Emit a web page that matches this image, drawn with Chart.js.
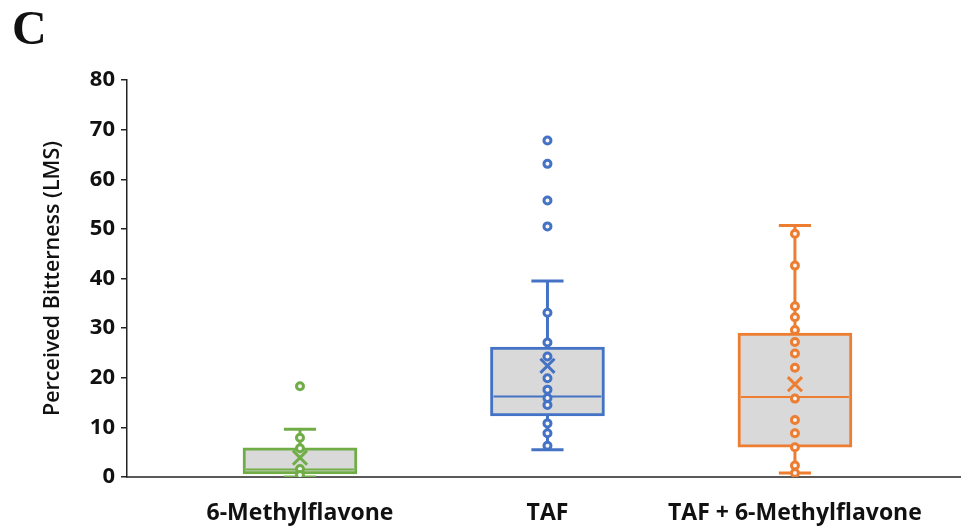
<!DOCTYPE html>
<html>
<head>
<meta charset="utf-8">
<script src="https://cdn.jsdelivr.net/npm/chart.js@4/dist/chart.umd.min.js"></script>
<style>
  body { margin: 0; background: #fff; }
  #wrap { width: 961px; height: 529px; }
</style>
</head>
<body>
<div id="wrap"><canvas id="grafica" width="961" height="529"></canvas></div>
<script>
// categorias y colores
var grupos = ["6-Methylflavone", "TAF", "TAF + 6-Methylflavone"];
var colores = ["#70ad47", "#4472c4", "#ed7d31"];

// resumen de cada caja: minimo, Q1, mediana, Q3, maximo (bigotes) y media
var minimos = [0, 5.5, 0.8];
var cuartil1 = [0.6, 12.3, 6.0];
var medianas = [1.5, 16.2, 16.1];
var cuartil3 = [5.9, 26.2, 29.0];
var maximos = [9.6, 39.5, 50.7];
var medias = [3.9, 22.4, 18.7];

// puntos individuales
var puntosMetil = [18.3, 7.9, 5.8, 1.6, 0.4];
var puntosTAF = [67.8, 63.1, 55.7, 50.5, 33.1, 27.1, 24.3, 19.9, 17.6, 15.9, 14.5, 10.8, 8.8, 6.3];
var puntosMezcla = [49.0, 42.6, 34.4, 32.2, 29.6, 27.2, 24.9, 22.0, 15.8, 11.5, 8.8, 6.0, 2.3, 0.8];
var puntos = [puntosMetil, puntosTAF, puntosMezcla];

var yTicks = [0, 10, 20, 30, 40, 50, 60, 70, 80];

var ANCHO_MEDIANA = 0.218;
var ANCHO_TAPA = 0.065;

function creaDatasets()
{
	var ds = [];

	// las tres cajas en un solo dataset de barras flotantes
	ds.push({
		type: "bar",
		data: grupos.map(function (g, i) { return { x: i + 1, y: [cuartil1[i], cuartil3[i]] }; }),
		backgroundColor: "#d9d9d9",
		borderColor: colores,
		borderWidth: 3,
		borderSkipped: false,
		barThickness: 114,
		order: 5
	});

	for (var i = 0; i < grupos.length; i++)
	{
		var x = i + 1;
		var c = colores[i];

		var lineas = [
			[{ x: x, y: cuartil3[i] }, { x: x, y: maximos[i] }],
			[{ x: x, y: cuartil1[i] }, { x: x, y: minimos[i] }],
			[{ x: x - ANCHO_TAPA, y: maximos[i] }, { x: x + ANCHO_TAPA, y: maximos[i] }],
			[{ x: x - ANCHO_TAPA, y: minimos[i] }, { x: x + ANCHO_TAPA, y: minimos[i] }]
		];
		for (var j = 0; j < lineas.length; j++)
		{
			ds.push({
				type: "line",
				data: lineas[j],
				borderColor: c,
				borderWidth: 3,
				pointRadius: 0,
				fill: false,
				order: 4
			});
		}

		ds.push({
			type: "line",
			data: [{ x: x - ANCHO_MEDIANA, y: medianas[i] }, { x: x + ANCHO_MEDIANA, y: medianas[i] }],
			borderColor: c,
			borderWidth: 2,
			pointRadius: 0,
			fill: false,
			order: 3
		});

		ds.push({
			type: "scatter",
			data: puntos[i].map(function (v) { return { x: x, y: v }; }),
			pointStyle: "circle",
			pointRadius: 3.5,
			borderWidth: 3,
			borderColor: c,
			backgroundColor: "#f4f4f4",
			order: 2
		});

		ds.push({
			type: "scatter",
			data: [{ x: x, y: medias[i] }],
			pointStyle: "crossRot",
			pointRadius: 10,
			borderWidth: 3,
			borderColor: c,
			backgroundColor: c,
			order: 1
		});
	}
	return ds;
}

var fuenteEje = "'Open Sans', 'DejaVu Sans', sans-serif";

new Chart(document.getElementById("grafica"), {
	type: "bar",
	data: { datasets: creaDatasets() },
	options: {
		responsive: false,
		animation: false,
		devicePixelRatio: 1,
		layout: { autoPadding: false, padding: { left: 12, right: 0, top: 0, bottom: 0 } },
		plugins: {
			legend: { display: false },
			tooltip: { enabled: false },
			title: {
				display: true,
				text: "C",
				align: "start",
				color: "#111",
				font: { family: "'Liberation Serif', 'DejaVu Serif', serif", size: 48, weight: "bold", lineHeight: 1 },
				padding: { top: 8, bottom: 24 }
			}
		},
		scales: {
			x: {
				type: "linear",
				offset: false,
				min: 0.301,
				max: 3.671,
				afterBuildTicks: function (scale) {
					scale.ticks = grupos.map(function (g, i) { return { value: i + 1 }; });
				},
				afterFit: function (scale) {
					scale.height = 52;
					scale.paddingLeft = 0;
					scale.paddingRight = 0;
				},
				ticks: {
					padding: 23,
					color: "#111",
					font: { family: fuenteEje, size: 23, weight: "bold" },
					callback: function (v) { return grupos[Math.round(v) - 1]; }
				},
				grid: { display: true, offset: false, drawOnChartArea: false, drawTicks: false },
				border: { display: true, color: "#595959", width: 2 }
			},
			y: {
				min: 0,
				max: 80,
				afterBuildTicks: function (scale) {
					scale.ticks = yTicks.map(function (v) { return { value: v }; });
				},
				afterFit: function (scale) { scale.width = 115; },
				ticks: {
					padding: 6,
					color: "#111",
					font: { family: fuenteEje, size: 22, weight: "bold" }
				},
				grid: { display: true, drawOnChartArea: false, drawTicks: true, tickLength: 6, color: "#222", lineWidth: 1.5 },
				border: { display: true, color: "#222", width: 1.5 },
				title: {
					display: true,
					text: "Perceived Bitterness (LMS)",
					color: "#111",
					font: { family: fuenteEje, size: 21.5, weight: "600" },
					padding: { top: 28, bottom: 0 }
				}
			}
		}
	}
});
</script>
</body>
</html>
